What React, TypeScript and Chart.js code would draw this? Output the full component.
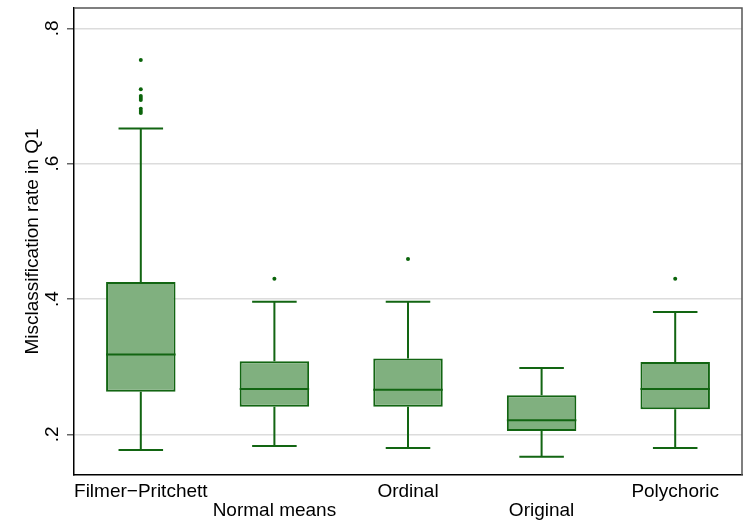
import React, { useEffect, useRef } from "react";
import { Chart, registerables } from "chart.js";
Chart.register(...registerables);

const categories = ["Filmer\u2212Pritchett", "Normal means", "Ordinal", "Original", "Polychoric"];
const lowerWhisker = [0.177, 0.183, 0.180, 0.167, 0.180];
const q1 = [0.263, 0.241, 0.241, 0.205, 0.237];
const median = [0.318, 0.267, 0.266, 0.221, 0.267];
const q3 = [0.425, 0.308, 0.312, 0.258, 0.307];
const upperWhisker = [0.652, 0.396, 0.396, 0.298, 0.381];
const outliers: number[][] = [
  [0.753, 0.710, 0.700, 0.697, 0.694, 0.681, 0.678, 0.675],
  [0.430],
  [0.459],
  [],
  [0.430],
];
const yTicks = [0.2, 0.4, 0.6, 0.8];
const yTickLabels = [".2", ".4", ".6", ".8"];
const yTitle = "Misclassification rate in Q1";

const FONT = '"Liberation Sans", Arial, Helvetica, sans-serif';
const LINE_GREEN = "#126512";
const FILL_GREEN = "#80b07f";
const DOT_GREEN = "#0b640b";

const boxPlugin = {
  id: "boxExtras",
  afterDatasetsDraw(chart: any) {
    const ctx = chart.ctx;
    const xs = chart.scales.x;
    const ys = chart.scales.y;
    const step = xs.getPixelForValue(1) - xs.getPixelForValue(0);
    const capHalf = step / 6;
    const meta = chart.getDatasetMeta(0);
    ctx.save();
    ctx.strokeStyle = LINE_GREEN;
    ctx.lineWidth = 2;
    for (let i = 0; i < categories.length; i++) {
      const x = xs.getPixelForValue(i);
      const bar = meta.data[i];
      const halfW = bar.width / 2;
      const yU = ys.getPixelForValue(upperWhisker[i]);
      const yL = ys.getPixelForValue(lowerWhisker[i]);
      const yQ1 = ys.getPixelForValue(q1[i]);
      const yQ3 = ys.getPixelForValue(q3[i]);
      const yM = ys.getPixelForValue(median[i]);
      ctx.beginPath();
      ctx.moveTo(x, yQ3);
      ctx.lineTo(x, yU);
      ctx.moveTo(x - capHalf, yU);
      ctx.lineTo(x + capHalf, yU);
      ctx.moveTo(x, yQ1);
      ctx.lineTo(x, yL);
      ctx.moveTo(x - capHalf, yL);
      ctx.lineTo(x + capHalf, yL);
      ctx.moveTo(x - halfW, yM);
      ctx.lineTo(x + halfW, yM);
      ctx.stroke();
    }
    ctx.restore();
  },
  afterDraw(chart: any) {
    const ctx = chart.ctx;
    const ys = chart.scales.y;
    const area = chart.chartArea;
    ctx.save();
    ctx.strokeStyle = "#555";
    ctx.lineWidth = 1.5;
    ctx.beginPath();
    ctx.moveTo(area.left, area.top);
    ctx.lineTo(area.right, area.top);
    ctx.lineTo(area.right, area.bottom);
    ctx.stroke();
    ctx.fillStyle = "#000";
    ctx.font = `19px ${FONT}`;
    ctx.textAlign = "center";
    ctx.textBaseline = "alphabetic";
    yTicks.forEach((v, i) => {
      const y = ys.getPixelForValue(v);
      ctx.save();
      ctx.translate(58, y);
      ctx.rotate(-Math.PI / 2);
      ctx.fillText(yTickLabels[i], 0, 0);
      ctx.restore();
    });
    ctx.save();
    ctx.translate(38, (area.top + area.bottom) / 2);
    ctx.rotate(-Math.PI / 2);
    ctx.fillText(yTitle, 0, 0);
    ctx.restore();
    ctx.restore();
  },
};

export default function App() {
  const ref = useRef<HTMLCanvasElement | null>(null);
  useEffect(() => {
    document.body.style.margin = "0";
    const canvas = ref.current;
    if (!canvas) return;
    const outlierPoints: { x: string; y: number }[] = [];
    outliers.forEach((arr, i) => arr.forEach((v) => outlierPoints.push({ x: categories[i], y: v })));
    const chart = new Chart(canvas, {
      type: "bar",
      data: {
        labels: categories,
        datasets: [
          {
            data: categories.map((_, i) => [q1[i], q3[i]]) as any,
            backgroundColor: FILL_GREEN,
            borderColor: LINE_GREEN,
            borderWidth: 2,
            borderSkipped: false,
            barPercentage: 0.52,
            categoryPercentage: 1,
          },
          {
            type: "scatter",
            data: outlierPoints as any,
            pointRadius: 2,
            pointBackgroundColor: DOT_GREEN,
            pointBorderColor: DOT_GREEN,
            pointBorderWidth: 0,
          } as any,
        ],
      },
      options: {
        animation: false,
        responsive: false,
        maintainAspectRatio: false,
        layout: { padding: { top: 8, right: 2, left: 0, bottom: 0 } },
        plugins: { legend: { display: false }, tooltip: { enabled: false } },
        scales: {
          x: {
            type: "category",
            offset: true,
            grid: { display: false, drawTicks: false },
            border: { display: true, color: "#000", width: 1.5 },
            ticks: {
              autoSkip: false,
              maxRotation: 0,
              minRotation: 0,
              padding: 7,
              color: "#000",
              font: { family: FONT, size: 19, lineHeight: 1.0 },
              callback: (_v: any, index: number) =>
                index % 2 === 1 ? ["", categories[index]] : categories[index],
            },
            afterFit: (scale: any) => {
              scale.height = 48;
            },
          },
          y: {
            type: "linear",
            min: 0.14,
            max: 0.83,
            afterBuildTicks: (scale: any) => {
              scale.ticks = yTicks.map((v) => ({ value: v }));
            },
            grid: {
              color: "#dcdcdc",
              lineWidth: 1.5,
              drawTicks: true,
              tickLength: 7,
              tickColor: "#666",
              tickWidth: 1.5,
            },
            border: { display: true, color: "#000", width: 1.5 },
            ticks: { display: false },
            afterFit: (scale: any) => {
              scale.width = 74;
            },
          },
        },
      },
      plugins: [boxPlugin],
    });
    return () => chart.destroy();
  }, []);
  return (
    <div style={{ width: 746, height: 523, background: "#fff" }}>
      <canvas ref={ref} width={746} height={523} />
    </div>
  );
}
